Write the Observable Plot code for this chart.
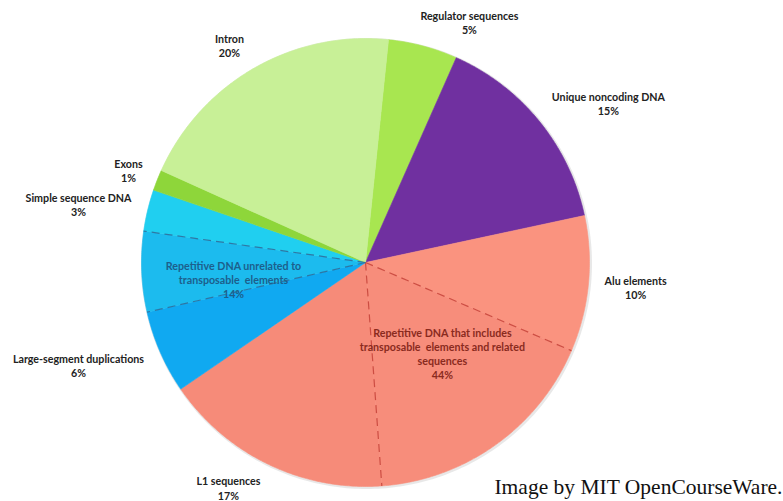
<!DOCTYPE html>
<html>
<head>
<meta charset="utf-8">
<script src="https://cdn.jsdelivr.net/npm/d3@7"></script>
<script src="https://cdn.jsdelivr.net/npm/@observablehq/plot@0.6"></script>
<style>
  html, body { margin: 0; padding: 0; background: #fff; }
  #chart { width: 783px; height: 501px; }
</style>
</head>
<body>
<div id="chart"></div>
<script>
// ---- data ----
const slices = ["Regulator sequences", "Unique noncoding DNA", "Alu elements", "Other transposable elements",
  "L1 sequences", "Large-segment duplications", "Other repetitive DNA", "Simple sequence DNA", "Exons", "Intron"];
const shares = [5, 15, 9.8, 17.4, 16.6, 6, 5.8, 3, 1.5, 19.9];
const sliceColors = ["#a8e650", "#7030a0", "#fa937f", "#f78d7b", "#f68b79", "#10a9f1", "#1cbbee", "#20cff0", "#8ed63a", "#c8f097"];
const startAngle = 5.9; // degrees clockwise from north

const labelTexts = ["Regulator sequences\n5%", "Unique noncoding DNA\n15%", "Alu elements\n10%",
  "Repetitive DNA that includes\ntransposable  elements and related\nsequences\n44%",
  "L1 sequences\n17%", "Large-segment duplications\n6%",
  "Repetitive DNA unrelated to\ntransposable  elements\n14%",
  "Simple sequence DNA\n3%", "Exons\n1%", "Intron\n20%"];
const labelAngles = [23.4, 56.8, 95.3, 139.8, 211.3, 250.3, 262.7, 281.4, 291.2, 327.9];
const labelRadii = [1.168, 1.296, 1.211, 0.532, 1.178, 1.361, 0.594, 1.307, 1.135, 1.143];
const labelColors = ["#222", "#222", "#222", "#8a2a1e", "#222", "#222", "#1d5f8c", "#222", "#222", "#222"];

const redDividers = [2, 3];   // dashed line after these slice indices
const blueDividers = [5, 6];

// ---- geometry ----
const W = 783, H = 501, cx = 365, cy = 262, R = 224;
const rad = a => a * Math.PI / 180;
const total = d3.sum(shares);
const cum = [startAngle];
shares.forEach((s, i) => cum.push(cum[i] + s / total * 360));

const polyPts = [];
slices.forEach((name, i) => {
  const a0 = cum[i], a1 = cum[i + 1];
  const n = Math.max(2, Math.ceil((a1 - a0) / 0.5));
  polyPts.push({name, color: sliceColors[i], x: 0, y: 0});
  for (let k = 0; k <= n; k++) {
    const a = rad(a0 + (a1 - a0) * k / n);
    polyPts.push({name, color: sliceColors[i], x: Math.sin(a), y: Math.cos(a)});
  }
  polyPts.push({name, color: sliceColors[i], x: 0, y: 0});
});

const rim = d3.range(0, 361, 1).map(a => ({x: Math.sin(rad(a)), y: Math.cos(rad(a))}));

const dividers = [
  ...redDividers.map(i => ({a: cum[i + 1], color: "#c8463c"})),
  ...blueDividers.map(i => ({a: cum[i + 1], color: "#2f6f9c"}))
];

const labels = labelTexts.map((t, i) => ({
  text: t,
  x: Math.sin(rad(labelAngles[i])) * labelRadii[i],
  y: Math.cos(rad(labelAngles[i])) * labelRadii[i],
  color: labelColors[i]
}));

const chart = Plot.plot({
  width: W, height: H,
  margin: 0,
  x: {domain: [-cx / R, (W - cx) / R], range: [0, W], axis: null},
  y: {domain: [-(H - cy) / R, cy / R], range: [H, 0], axis: null},
  color: {type: "identity"},
  style: {background: "#fff"},
  marks: [
    Plot.line(rim, {x: "x", y: "y", stroke: "#d8d8d8", strokeWidth: 3, strokeOpacity: 0.6, dx: 1, dy: 1}),
    Plot.line(polyPts, {x: "x", y: "y", z: "name", fill: "color", stroke: "color", strokeWidth: 0.6, curve: "linear"}),
    Plot.link(dividers, {x1: 0, y1: 0, x2: d => Math.sin(rad(d.a)), y2: d => Math.cos(rad(d.a)),
      stroke: "color", strokeWidth: 1.2, strokeDasharray: "8,5", strokeOpacity: 0.9}),
    Plot.text(labels, {x: "x", y: "y", text: "text", fill: "color", fontSize: 10.7, fontWeight: "bold",
      fontFamily: "Lato, 'Open Sans', sans-serif", lineHeight: 1.32, textAnchor: "middle", lineAnchor: "middle"}),
    Plot.text(["Image by MIT OpenCourseWare."], {frameAnchor: "bottom-right", textAnchor: "end", lineAnchor: "bottom",
      dx: -1, dy: -8, fontSize: 21.5, fill: "#111", fontFamily: "'Liberation Serif', 'DejaVu Serif', serif"})
  ]
});
document.getElementById("chart").appendChild(chart);
</script>
</body>
</html>
